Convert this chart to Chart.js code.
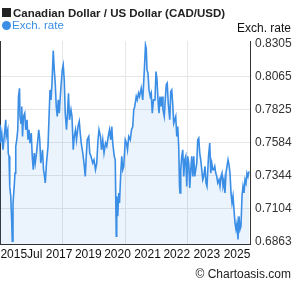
<!DOCTYPE html>
<html>
<head>
<meta charset="utf-8">
<script src="https://cdn.jsdelivr.net/npm/chart.js@4"></script>
<style>
  body { margin: 0; background: #fff; }
</style>
</head>
<body>
<canvas id="myGraph" width="295" height="288"></canvas>
<script>
// CAD/USD, 10 years, decimal year / rate
const years = [
  2015.60, 2015.61, 2015.67, 2015.72, 2015.83, 2015.85, 2015.91, 2015.93, 2015.96, 2015.99,
  2016.03, 2016.07, 2016.09, 2016.12, 2016.16, 2016.20, 2016.23, 2016.27, 2016.31, 2016.34,
  2016.38, 2016.40, 2016.44, 2016.47, 2016.50, 2016.54, 2016.59, 2016.63, 2016.68, 2016.72,
  2016.76, 2016.80, 2016.85, 2016.89, 2016.93, 2016.97, 2017.01, 2017.06, 2017.10, 2017.15,
  2017.19, 2017.23, 2017.27, 2017.30, 2017.34, 2017.38, 2017.41, 2017.46, 2017.52, 2017.56,
  2017.60, 2017.64, 2017.68, 2017.73, 2017.77, 2017.81, 2017.85, 2017.89, 2017.93, 2017.97,
  2018.02, 2018.09, 2018.13, 2018.17, 2018.21, 2018.26, 2018.30, 2018.34, 2018.38, 2018.44,
  2018.48, 2018.53, 2018.57, 2018.62, 2018.66, 2018.72, 2018.77, 2018.81, 2018.85, 2018.91,
  2018.96, 2019.01, 2019.05, 2019.09, 2019.15, 2019.19, 2019.24, 2019.31, 2019.36, 2019.42,
  2019.47, 2019.52, 2019.56, 2019.62, 2019.66, 2019.71, 2019.76, 2019.82, 2019.87, 2019.93,
  2019.98, 2020.03, 2020.07, 2020.11, 2020.17, 2020.21, 2020.25, 2020.27, 2020.31, 2020.35,
  2020.38, 2020.43, 2020.47, 2020.51, 2020.55, 2020.61, 2020.66, 2020.70, 2020.75, 2020.81,
  2020.86, 2020.91, 2020.95, 2020.99, 2021.05, 2021.09, 2021.14, 2021.18, 2021.25, 2021.31,
  2021.38, 2021.42, 2021.45, 2021.48, 2021.52, 2021.56, 2021.61, 2021.65, 2021.69, 2021.74,
  2021.80, 2021.84, 2021.88, 2021.92, 2021.96, 2022.00, 2022.04, 2022.08, 2022.12, 2022.17,
  2022.21, 2022.25, 2022.29, 2022.33, 2022.39, 2022.43, 2022.47, 2022.51, 2022.55, 2022.59,
  2022.63, 2022.67, 2022.71, 2022.75, 2022.78, 2022.80, 2022.83, 2022.87, 2022.91, 2022.95,
  2022.99, 2023.03, 2023.07, 2023.11, 2023.15, 2023.19, 2023.23, 2023.27, 2023.31, 2023.35,
  2023.39, 2023.43, 2023.47, 2023.51, 2023.55, 2023.59, 2023.63, 2023.67, 2023.71, 2023.75,
  2023.80, 2023.84, 2023.88, 2023.94, 2023.99, 2024.03, 2024.07, 2024.11, 2024.15, 2024.19,
  2024.23, 2024.27, 2024.31, 2024.36, 2024.40, 2024.44, 2024.48, 2024.52, 2024.56, 2024.60,
  2024.64, 2024.68, 2024.72, 2024.76, 2024.80, 2024.84, 2024.88, 2024.92, 2024.96, 2025.00,
  2025.04, 2025.08, 2025.12, 2025.16, 2025.20, 2025.24, 2025.28, 2025.32, 2025.36, 2025.40,
  2025.44, 2025.48, 2025.52, 2025.56
];
const rates = [
  0.7715, 0.7582, 0.7655, 0.7533, 0.7752, 0.7630, 0.7679, 0.7509, 0.7485, 0.7266,
  0.7194, 0.6999, 0.6866, 0.7145, 0.7242, 0.7363, 0.7558, 0.7606, 0.7679, 0.7922,
  0.7982, 0.7776, 0.7727, 0.7849, 0.7630, 0.7776, 0.7800, 0.7679, 0.7752, 0.7606,
  0.7679, 0.7582, 0.7655, 0.7485, 0.7388, 0.7509, 0.7436, 0.7509, 0.7582, 0.7679,
  0.7606, 0.7436, 0.7485, 0.7533, 0.7388, 0.7339, 0.7291, 0.7436, 0.7558, 0.7764,
  0.7970, 0.7897, 0.8019, 0.8257, 0.8116, 0.8019, 0.7849, 0.7776, 0.7897, 0.7800,
  0.7946, 0.8116, 0.8152, 0.8043, 0.7800, 0.7679, 0.7800, 0.7946, 0.7752, 0.7825,
  0.7776, 0.7533, 0.7630, 0.7679, 0.7606, 0.7703, 0.7740, 0.7655, 0.7582, 0.7509,
  0.7436, 0.7339, 0.7485, 0.7606, 0.7630, 0.7509, 0.7485, 0.7436, 0.7460, 0.7388,
  0.7436, 0.7606, 0.7679, 0.7630, 0.7533, 0.7606, 0.7509, 0.7582, 0.7558, 0.7630,
  0.7679, 0.7606, 0.7703, 0.7582, 0.7485, 0.7460, 0.6902, 0.7194, 0.7048, 0.7218,
  0.7145, 0.7363, 0.7485, 0.7388, 0.7412, 0.7606, 0.7582, 0.7533, 0.7630, 0.7606,
  0.7679, 0.7703, 0.7825, 0.7849, 0.7922, 0.7897, 0.7946, 0.7922, 0.7982, 0.7897,
  0.8140, 0.8298, 0.8274, 0.8116, 0.8092, 0.7970, 0.7922, 0.7946, 0.7800, 0.7897,
  0.7897, 0.8104, 0.8043, 0.7897, 0.7800, 0.7922, 0.7849, 0.7922, 0.7825, 0.7776,
  0.7897, 0.8007, 0.8019, 0.7873, 0.7752, 0.7958, 0.7970, 0.7861, 0.7727, 0.7752,
  0.7776, 0.7630, 0.7703, 0.7545, 0.7266, 0.7218, 0.7388, 0.7485, 0.7533, 0.7339,
  0.7460, 0.7485, 0.7266, 0.7485, 0.7436, 0.7254, 0.7388, 0.7485, 0.7339, 0.7485,
  0.7339, 0.7388, 0.7436, 0.7606, 0.7618, 0.7509, 0.7460, 0.7388, 0.7315, 0.7339,
  0.7412, 0.7291, 0.7266, 0.7485, 0.7582, 0.7363, 0.7436, 0.7388, 0.7388, 0.7412,
  0.7363, 0.7339, 0.7291, 0.7315, 0.7266, 0.7339, 0.7363, 0.7266, 0.7315, 0.7218,
  0.7363, 0.7412, 0.7460, 0.7424, 0.7363, 0.7218, 0.7145, 0.7194, 0.7096, 0.6999,
  0.6951, 0.6999, 0.6878, 0.7048, 0.6951, 0.6975, 0.7194, 0.7266, 0.7218, 0.7315,
  0.7290, 0.7363, 0.7339, 0.7375
];
const yTicks = [0.6863, 0.7104, 0.7344, 0.7584, 0.7825, 0.8065, 0.8305];
const xTickLabels = ["2015", "Jul 2017", "2019", "2020", "2021", "2022", "2023", "2025"];
const xTickYears = [2016.15, 2017.59, 2019.13, 2020.30, 2021.50, 2022.67, 2023.87, 2025.08];

const xMin = 2015.6, xMax = 2025.6;
const FONT = "Arial, 'Liberation Sans', sans-serif";
const BLUE = "#3a8ee6";
// vertical grid every quarter of the range
const xGrid = [1, 2, 3].map(k => xMin + (xMax - xMin) * k / 4);

const textPlugin = {
  id: "texts",
  afterDraw(chart) {
    const c = chart.ctx;
    c.save();
    c.fillStyle = "#222";
    c.fillRect(2, 8, 9, 9);
    c.font = "bold 11.5px " + FONT;
    c.textBaseline = "alphabetic";
    c.textAlign = "left";
    c.fillText("Canadian Dollar / US Dollar (CAD/USD)", 13, 17);

    c.fillStyle = BLUE;
    c.beginPath();
    c.arc(6.5, 25.5, 4.5, 0, Math.PI * 2);
    c.fill();
    c.font = "11.5px " + FONT;
    c.textBaseline = "middle";
    c.fillText("Exch. rate", 12, 26);

    c.font = "12px " + FONT;
    c.fillStyle = "#111";
    c.textAlign = "right";
    c.fillText("Exch. rate", 291, 29);
    c.fillStyle = "#222";
    c.fillText("\u00a9 Chartoasis.com", 291, 275);
    c.restore();
  }
};

const canvas = document.querySelector("#myGraph").getContext("2d");
let chart = new Chart(canvas, {
  type: "line",
  data: {
    datasets: [{
      label: "Exch. rate",
      data: years.map((x, i) => ({ x: x, y: rates[i] })),
      borderColor: BLUE,
      backgroundColor: "rgba(58, 142, 230, 0.1)",
      borderWidth: 1.6,
      pointRadius: 0,
      tension: 0,
      fill: "start"
    }]
  },
  options: {
    responsive: false,
    animation: false,
    layout: { padding: { top: 41, left: 0, right: 0, bottom: 23 } },
    plugins: {
      legend: { display: false },
      tooltip: { enabled: false }
    },
    scales: {
      x: {
        type: "linear",
        min: xMin,
        max: xMax,
        afterBuildTicks: (scale) => {
          scale.ticks = xGrid.concat(xTickYears).sort((a, b) => a - b).map(v => ({ value: v }));
        },
        afterFit: (scale) => { scale.paddingLeft = 0; scale.paddingRight = 0; },
        ticks: {
          autoSkip: false,
          maxRotation: 0,
          minRotation: 0,
          padding: 3,
          color: "#111",
          font: { family: FONT, size: 12 },
          callback: (v) => {
            const i = xTickYears.indexOf(v);
            return i >= 0 ? xTickLabels[i] : "";
          }
        },
        grid: {
          drawTicks: false,
          color: (ctx) => (ctx.tick && xGrid.includes(ctx.tick.value)) ? "#e6e6e6" : "rgba(0,0,0,0)"
        },
        border: { color: "#333", width: 1 }
      },
      y: {
        type: "linear",
        position: "right",
        min: 0.6841,
        max: 0.8327,
        afterBuildTicks: (scale) => {
          scale.ticks = yTicks.map(v => ({ value: v }));
        },
        afterFit: (scale) => { scale.width = 45; },
        ticks: {
          padding: 5,
          color: "#333",
          font: { family: FONT, size: 12 },
          callback: (v) => v.toFixed(4)
        },
        grid: {
          drawTicks: false,
          color: (ctx) => (ctx.index === 0 || ctx.index === yTicks.length - 1) ? "rgba(0,0,0,0)" : "#e6e6e6"
        },
        border: { color: "#333", width: 1 }
      },
      yl: {
        type: "linear",
        position: "left",
        min: 0.6841,
        max: 0.8327,
        afterFit: (scale) => { scale.width = 0; },
        ticks: { display: false },
        grid: { display: false, drawTicks: false },
        border: { color: "#333", width: 1 }
      }
    }
  },
  plugins: [textPlugin]
});
</script>
</body>
</html>
